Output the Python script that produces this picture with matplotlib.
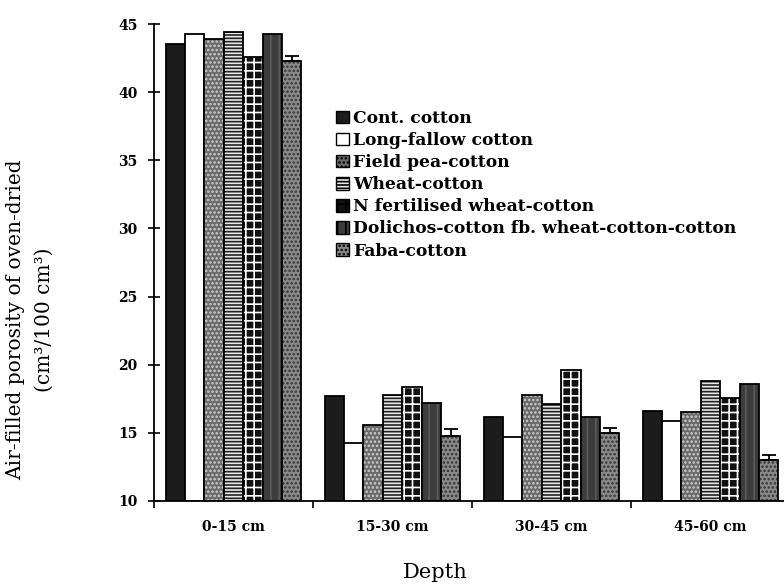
import numpy as np
import matplotlib
matplotlib.use('Agg')
import matplotlib.pyplot as plt
from matplotlib.patches import Patch

depths = ['0-15 cm', '15-30 cm', '30-45 cm', '45-60 cm']
rotations = ['Cont. cotton', 'Long-fallow cotton', 'Field pea-cotton', 'Wheat-cotton',
             'N fertilised wheat-cotton', 'Dolichos-cotton fb. wheat-cotton-cotton', 'Faba-cotton']

cont_cotton = [43.5, 17.7, 16.2, 16.6]
long_fallow = [44.3, 14.25, 14.7, 15.9]
field_pea = [43.9, 15.6, 17.8, 16.5]
wheat = [44.4, 17.8, 17.1, 18.8]
n_wheat = [42.6, 18.35, 19.6, 17.55]
dolichos = [44.3, 17.2, 16.2, 18.6]
faba = [42.3, 14.8, 15.0, 13.0]
faba_err = [0.35, 0.5, 0.35, 0.35]

series = [cont_cotton, long_fallow, field_pea, wheat, n_wheat, dolichos, faba]

# face colour, hatch, hatch colour
styles = [('#1c1c1c', '', '#1c1c1c'),
          ('white', '', 'white'),
          ('#6a6a6a', '....', '#d0d0d0'),
          ('#e8e8e8', '-----', '#222222'),
          ('#111111', '++', 'white'),
          ('#3c3c3c', '||', '#5a5a5a'),
          ('#8a8a8a', '....', '#333333')]

plt.rcParams['font.family'] = ['DejaVu Serif']
plt.rcParams['hatch.linewidth'] = 1.2

fig = plt.figure(figsize=(7.84, 5.85), dpi=100)
ax = fig.add_axes([154 / 784, 84 / 585, 636 / 784, 477 / 585])

x = np.arange(len(depths))
w = 0.122
handles = []
for i, vals in enumerate(series):
    face, hatch, hcol = styles[i]
    pos = x + (i - 3) * w
    ax.bar(pos, np.array(vals) - 10, w, bottom=10, color=face, hatch=hatch,
           edgecolor=hcol, linewidth=0)
    ax.bar(pos, np.array(vals) - 10, w, bottom=10, fill=False,
           edgecolor='black', linewidth=1.3)
    handles.append(Patch(facecolor=face, hatch=hatch, edgecolor='black', linewidth=1.0))

ax.errorbar(x + 3 * w, faba, yerr=[[0] * 4, faba_err], fmt='none', ecolor='black',
            elinewidth=1.3, capsize=5, capthick=1.3)

ax.set_ylim(10, 45)
ax.set_xlim(-0.5, 3.5)
ax.set_yticks(range(10, 46, 5))
ax.set_xticks(np.arange(-0.5, 4.0, 1.0))
ax.set_xticklabels([])
ax.set_xticks(x, minor=True)
ax.set_xticklabels(depths, minor=True, fontsize=10, fontweight='bold')
ax.tick_params(axis='x', which='minor', length=0, pad=14)
ax.tick_params(axis='x', which='major', direction='out', length=5, width=1.2)
ax.tick_params(axis='y', direction='inout', length=8, width=1.2, pad=8)
for lab in ax.get_yticklabels():
    lab.set_fontweight('bold')
    lab.set_fontsize(10)

ax.spines['top'].set_visible(False)
ax.spines['right'].set_visible(False)
ax.spines['left'].set_linewidth(1.3)
ax.spines['bottom'].set_linewidth(1.3)

fig.text(435 / 784, 1 - 572 / 585, 'Depth', fontsize=15, ha='center', va='center')
fig.text(16 / 784, 1 - 320 / 585, 'Air-filled porosity of oven-dried', fontsize=14.5,
         rotation=90, ha='center', va='center')
fig.text(44 / 784, 1 - 320 / 585, '(cm³/100 cm³)', fontsize=14.5,
         rotation=90, ha='center', va='center')

ax.legend(handles, rotations, loc='upper left', bbox_to_anchor=(0.286, 0.82),
          frameon=False, prop={'weight': 'bold', 'size': 12.3}, handlelength=0.75,
          handleheight=0.75, handletextpad=0.25, labelspacing=0.3, borderpad=0,
          borderaxespad=0)

fig.savefig('out.png', dpi=100)
